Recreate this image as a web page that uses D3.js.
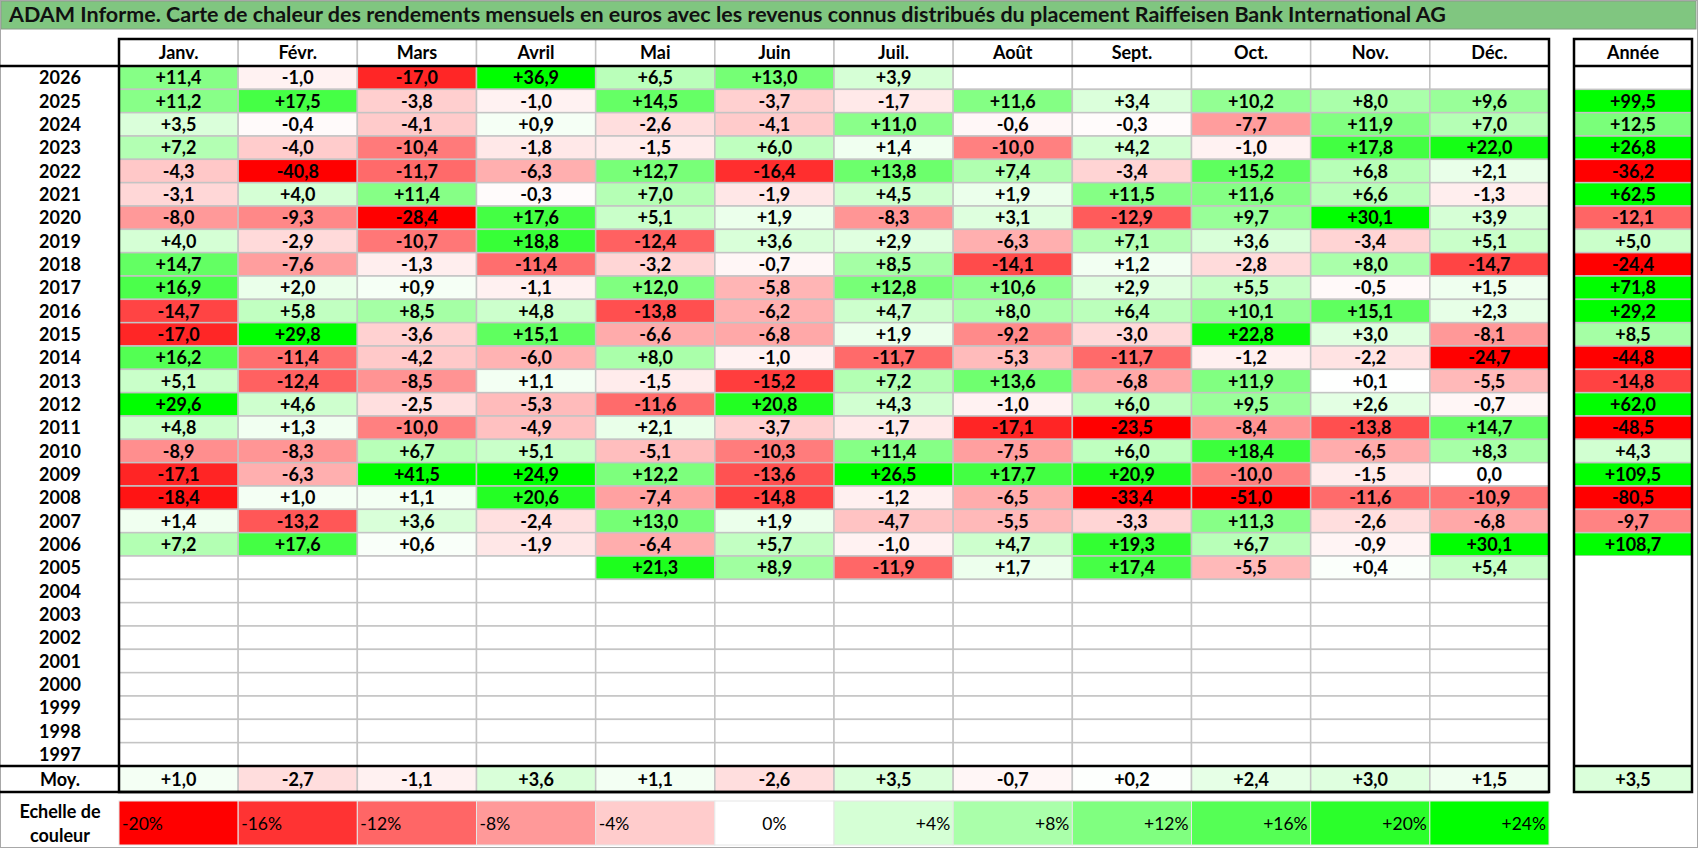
<!DOCTYPE html>
<html>
<head>
<meta charset="utf-8">
<script src="https://cdn.jsdelivr.net/npm/d3@7"></script>
<style>
  body { margin: 0; background: #fff; }
  svg { display: block; font-family: Lato, "Open Sans", sans-serif; }
</style>
</head>
<body>
<div id="chart"></div>
<script>
const title = "ADAM Informe. Carte de chaleur des rendements mensuels en euros avec les revenus connus distribués du placement Raiffeisen Bank International AG";
const months = ["Janv.", "Févr.", "Mars", "Avril", "Mai", "Juin", "Juil.", "Août", "Sept.", "Oct.", "Nov.", "Déc."];
const years = [2026, 2025, 2024, 2023, 2022, 2021, 2020, 2019, 2018, 2017, 2016, 2015, 2014, 2013, 2012, 2011, 2010, 2009, 2008, 2007, 2006, 2005, 2004, 2003, 2002, 2001, 2000, 1999, 1998, 1997];

// monthly returns (%) per year, Jan..Dec, null = no data
const r2026 = [11.4, -1.0, -17.0, 36.9, 6.5, 13.0, 3.9, null, null, null, null, null];
const r2025 = [11.2, 17.5, -3.8, -1.0, 14.5, -3.7, -1.7, 11.6, 3.4, 10.2, 8.0, 9.6];
const r2024 = [3.5, -0.4, -4.1, 0.9, -2.6, -4.1, 11.0, -0.6, -0.3, -7.7, 11.9, 7.0];
const r2023 = [7.2, -4.0, -10.4, -1.8, -1.5, 6.0, 1.4, -10.0, 4.2, -1.0, 17.8, 22.0];
const r2022 = [-4.3, -40.8, -11.7, -6.3, 12.7, -16.4, 13.8, 7.4, -3.4, 15.2, 6.8, 2.1];
const r2021 = [-3.1, 4.0, 11.4, -0.3, 7.0, -1.9, 4.5, 1.9, 11.5, 11.6, 6.6, -1.3];
const r2020 = [-8.0, -9.3, -28.4, 17.6, 5.1, 1.9, -8.3, 3.1, -12.9, 9.7, 30.1, 3.9];
const r2019 = [4.0, -2.9, -10.7, 18.8, -12.4, 3.6, 2.9, -6.3, 7.1, 3.6, -3.4, 5.1];
const r2018 = [14.7, -7.6, -1.3, -11.4, -3.2, -0.7, 8.5, -14.1, 1.2, -2.8, 8.0, -14.7];
const r2017 = [16.9, 2.0, 0.9, -1.1, 12.0, -5.8, 12.8, 10.6, 2.9, 5.5, -0.5, 1.5];
const r2016 = [-14.7, 5.8, 8.5, 4.8, -13.8, -6.2, 4.7, 8.0, 6.4, 10.1, 15.1, 2.3];
const r2015 = [-17.0, 29.8, -3.6, 15.1, -6.6, -6.8, 1.9, -9.2, -3.0, 22.8, 3.0, -8.1];
const r2014 = [16.2, -11.4, -4.2, -6.0, 8.0, -1.0, -11.7, -5.3, -11.7, -1.2, -2.2, -24.7];
const r2013 = [5.1, -12.4, -8.5, 1.1, -1.5, -15.2, 7.2, 13.6, -6.8, 11.9, 0.1, -5.5];
const r2012 = [29.6, 4.6, -2.5, -5.3, -11.6, 20.8, 4.3, -1.0, 6.0, 9.5, 2.6, -0.7];
const r2011 = [4.8, 1.3, -10.0, -4.9, 2.1, -3.7, -1.7, -17.1, -23.5, -8.4, -13.8, 14.7];
const r2010 = [-8.9, -8.3, 6.7, 5.1, -5.1, -10.3, 11.4, -7.5, 6.0, 18.4, -6.5, 8.3];
const r2009 = [-17.1, -6.3, 41.5, 24.9, 12.2, -13.6, 26.5, 17.7, 20.9, -10.0, -1.5, 0.0];
const r2008 = [-18.4, 1.0, 1.1, 20.6, -7.4, -14.8, -1.2, -6.5, -33.4, -51.0, -11.6, -10.9];
const r2007 = [1.4, -13.2, 3.6, -2.4, 13.0, 1.9, -4.7, -5.5, -3.3, 11.3, -2.6, -6.8];
const r2006 = [7.2, 17.6, 0.6, -1.9, -6.4, 5.7, -1.0, 4.7, 19.3, 6.7, -0.9, 30.1];
const r2005 = [null, null, null, null, 21.3, 8.9, -11.9, 1.7, 17.4, -5.5, 0.4, 5.4];
const empty = [null, null, null, null, null, null, null, null, null, null, null, null];

// yearly totals, same order as years
const annual = [null, 99.5, 12.5, 26.8, -36.2, 62.5, -12.1, 5.0, -24.4, 71.8, 29.2, 8.5, -44.8, -14.8, 62.0, -48.5, 4.3, 109.5, -80.5, -9.7, 108.7, null, null, null, null, null, null, null, null, null];

// averages per month and over years
const monthAvg = [1.0, -2.7, -1.1, 3.6, 1.1, -2.6, 3.5, -0.7, 0.2, 2.4, 3.0, 1.5];
const annualAvg = 3.5;

// colour scale legend steps
const scaleSteps = [-20, -16, -12, -8, -4, 0, 4, 8, 12, 16, 20, 24];

const rows = [r2026, r2025, r2024, r2023, r2022, r2021, r2020, r2019, r2018, r2017, r2016, r2015, r2014, r2013, r2012, r2011, r2010, r2009, r2008, r2007, r2006, r2005, empty, empty, empty, empty, empty, empty, empty, empty];

const W = 1698, H = 848;
const gridColor = "#c4c4c4";
const fontSize = 18;
const dy = 6.5; // baseline shift to centre text in a row

const svg = d3.select("#chart").append("svg").attr("width", W).attr("height", H);

const x = d3.scaleBand().domain(months).range([119, 1549]);
const y = d3.scaleBand().domain(years).range([66, 766]);
const xAnnual = [1574, 1692];
const headerY = [39, 66];
const avgY = [766, 792];
const legendY = [801, 845];

const color = d3.scaleLinear().domain([-20, 0, 24]).range(["#ff0000", "#ffffff", "#00ff00"]).clamp(true);
const fmt = (v) => v === 0 ? "0,0" : (v > 0 ? "+" : "") + v.toFixed(1).replace(".", ",");

// title bar
svg.append("rect").attr("x", 1).attr("y", 1).attr("width", W - 3).attr("height", 28)
  .attr("fill", "#80c680").attr("stroke", "#8a9a8a").attr("stroke-width", 1);
svg.append("text").attr("x", 9).attr("y", 22).attr("font-size", 21.5).attr("font-weight", "bold")
  .attr("fill", "#111").text(title);

// outer frame
svg.append("rect").attr("x", 0.5).attr("y", 0.5).attr("width", W - 1).attr("height", H - 1)
  .attr("fill", "none").attr("stroke", "#a8a8a8");

// header cells
const header = svg.append("g");
header.selectAll("rect").data(months).join("rect")
  .attr("x", (d) => x(d)).attr("y", headerY[0]).attr("width", x.bandwidth()).attr("height", headerY[1] - headerY[0])
  .attr("fill", "#fff").attr("stroke", gridColor).attr("stroke-width", 1.5);
header.selectAll("text").data(months).join("text")
  .attr("x", (d) => x(d) + x.bandwidth() / 2).attr("y", (headerY[0] + headerY[1]) / 2 + dy)
  .attr("text-anchor", "middle").attr("font-size", fontSize).attr("font-weight", "bold").text((d) => d);
svg.append("text").attr("x", (xAnnual[0] + xAnnual[1]) / 2).attr("y", (headerY[0] + headerY[1]) / 2 + dy)
  .attr("text-anchor", "middle").attr("font-size", fontSize).attr("font-weight", "bold").text("Année");

// body cells
const cells = [];
rows.forEach((row, i) => row.forEach((v, j) => cells.push({ year: years[i], month: months[j], v })));

const body = svg.append("g");
body.selectAll("rect").data(cells).join("rect")
  .attr("x", (d) => x(d.month)).attr("y", (d) => y(d.year))
  .attr("width", x.bandwidth()).attr("height", y.bandwidth())
  .attr("fill", (d) => d.v === null ? "#fff" : color(d.v))
  .attr("stroke", gridColor).attr("stroke-width", 1.5);
body.selectAll("text").data(cells.filter((d) => d.v !== null)).join("text")
  .attr("x", (d) => x(d.month) + x.bandwidth() / 2).attr("y", (d) => y(d.year) + y.bandwidth() / 2 + dy)
  .attr("text-anchor", "middle").attr("font-size", fontSize).attr("font-weight", "bold").text((d) => fmt(d.v));

// year labels
svg.append("g").selectAll("text").data(years).join("text")
  .attr("x", 60).attr("y", (d) => y(d) + y.bandwidth() / 2 + dy)
  .attr("text-anchor", "middle").attr("font-size", fontSize).attr("font-weight", "bold").text((d) => d);

// annual column
const ann = svg.append("g");
ann.selectAll("rect").data(years).join("rect")
  .attr("x", xAnnual[0]).attr("y", (d) => y(d)).attr("width", xAnnual[1] - xAnnual[0]).attr("height", y.bandwidth())
  .attr("fill", (d, i) => annual[i] === null ? "#fff" : color(annual[i]))
  .attr("stroke", (d, i) => annual[i] === null ? "none" : gridColor).attr("stroke-width", 1.5);
ann.selectAll("text").data(years.filter((d, i) => annual[i] !== null)).join("text")
  .attr("x", (xAnnual[0] + xAnnual[1]) / 2).attr("y", (d) => y(d) + y.bandwidth() / 2 + dy)
  .attr("text-anchor", "middle").attr("font-size", fontSize).attr("font-weight", "bold")
  .text((d) => fmt(annual[years.indexOf(d)]));

// average row
const avg = svg.append("g");
avg.selectAll("rect").data(months).join("rect")
  .attr("x", (d) => x(d)).attr("y", avgY[0]).attr("width", x.bandwidth()).attr("height", avgY[1] - avgY[0])
  .attr("fill", (d, i) => color(monthAvg[i])).attr("stroke", gridColor).attr("stroke-width", 1.5);
avg.selectAll("text").data(months).join("text")
  .attr("x", (d) => x(d) + x.bandwidth() / 2).attr("y", (avgY[0] + avgY[1]) / 2 + dy)
  .attr("text-anchor", "middle").attr("font-size", fontSize).attr("font-weight", "bold")
  .text((d, i) => fmt(monthAvg[i]));
avg.append("rect").attr("x", xAnnual[0]).attr("y", avgY[0]).attr("width", xAnnual[1] - xAnnual[0]).attr("height", avgY[1] - avgY[0])
  .attr("fill", color(annualAvg));
avg.append("text").attr("x", (xAnnual[0] + xAnnual[1]) / 2).attr("y", (avgY[0] + avgY[1]) / 2 + dy)
  .attr("text-anchor", "middle").attr("font-size", fontSize).attr("font-weight", "bold").text(fmt(annualAvg));
svg.append("text").attr("x", 60).attr("y", (avgY[0] + avgY[1]) / 2 + dy)
  .attr("text-anchor", "middle").attr("font-size", fontSize).attr("font-weight", "bold").text("Moy.");

// thick black borders
const thick = svg.append("g").attr("stroke", "#000").attr("stroke-width", 2.5).attr("fill", "none");
thick.append("rect").attr("x", x.range()[0]).attr("y", headerY[0]).attr("width", x.range()[1] - x.range()[0]).attr("height", avgY[1] - headerY[0]);
thick.append("line").attr("x1", 0).attr("x2", x.range()[1]).attr("y1", headerY[1]).attr("y2", headerY[1]);
thick.append("line").attr("x1", 0).attr("x2", x.range()[1]).attr("y1", avgY[0]).attr("y2", avgY[0]);
thick.append("line").attr("x1", 0).attr("x2", x.range()[1]).attr("y1", avgY[1]).attr("y2", avgY[1]);
thick.append("rect").attr("x", xAnnual[0]).attr("y", headerY[0]).attr("width", xAnnual[1] - xAnnual[0]).attr("height", avgY[1] - headerY[0]);
thick.append("line").attr("x1", xAnnual[0]).attr("x2", xAnnual[1]).attr("y1", headerY[1]).attr("y2", headerY[1]);
thick.append("line").attr("x1", xAnnual[0]).attr("x2", xAnnual[1]).attr("y1", avgY[0]).attr("y2", avgY[0]);

// colour scale legend
const xLeg = d3.scaleBand().domain(scaleSteps).range(x.range());
const leg = svg.append("g");
leg.selectAll("rect").data(scaleSteps).join("rect")
  .attr("x", (d) => xLeg(d)).attr("y", legendY[0]).attr("width", xLeg.bandwidth()).attr("height", legendY[1] - legendY[0])
  .attr("fill", (d) => color(d)).attr("stroke", "#e6e6e6").attr("stroke-width", 1);
leg.selectAll("text").data(scaleSteps).join("text")
  .attr("x", (d) => d < 0 ? xLeg(d) + 3 : d === 0 ? xLeg(d) + xLeg.bandwidth() / 2 : xLeg(d) + xLeg.bandwidth() - 3)
  .attr("y", (legendY[0] + legendY[1]) / 2 + dy)
  .attr("text-anchor", (d) => d < 0 ? "start" : d === 0 ? "middle" : "end")
  .attr("font-size", 17.5).text((d) => (d > 0 ? "+" : "") + d + "%");
svg.append("text").attr("x", 60).attr("y", 818).attr("text-anchor", "middle")
  .attr("font-size", fontSize).attr("font-weight", "bold").text("Echelle de");
svg.append("text").attr("x", 60).attr("y", 842).attr("text-anchor", "middle")
  .attr("font-size", fontSize).attr("font-weight", "bold").text("couleur");
</script>
</body>
</html>
